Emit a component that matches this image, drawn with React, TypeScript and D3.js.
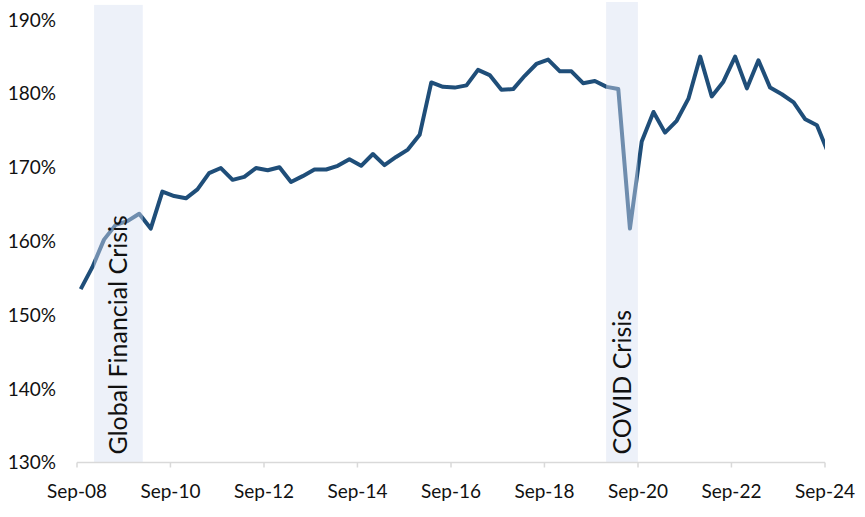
import React from "react";
import * as d3 from "d3";

// Quarter-end observations, Sep-2008 .. Sep-2024 (percent)
const values: number[] = [
  153.5, 156.5, 160.2, 162.2, 162.7, 163.7, 161.7, 166.7, 166.1, 165.8,
  167.0, 169.2, 169.9, 168.3, 168.7, 169.9, 169.6, 170.0, 168.0, 168.8,
  169.7, 169.7, 170.2, 171.1, 170.2, 171.8, 170.3, 171.4, 172.4, 174.4,
  181.5, 180.9, 180.8, 181.1, 183.2, 182.5, 180.5, 180.6, 182.4, 184.0,
  184.6, 183.0, 183.0, 181.4, 181.7, 180.9, 180.6, 161.7, 173.5, 177.5,
  174.7, 176.3, 179.3, 185.0, 179.6, 181.6, 185.0, 180.7, 184.5, 180.8,
  179.9, 178.8, 176.5, 175.7, 171.8,
];
const firstQuarterEnd = new Date(2008, 8, 30);
const yTicks: number[] = [130, 140, 150, 160, 170, 180, 190];
const xTickYears: number[] = [2008, 2010, 2012, 2014, 2016, 2018, 2020, 2022, 2024];
const crisisLabels: string[] = ["Global Financial Crisis", "COVID Crisis"];
const crisisStarts: Date[] = [new Date(2009, 0, 12), new Date(2019, 11, 27)];
const crisisEnds: Date[] = [new Date(2010, 0, 28), new Date(2020, 7, 31)];
const crisisTops: number[] = [192.0, 192.4];

const W = 865;
const H = 517;
const left = 77;
const right = 825;
const top = 19.7;
const bottom = 462.5;
const FONT = "Lato, 'Open Sans', sans-serif";

export default function App() {
  const dates = values.map((_, i) =>
    d3.timeDay.offset(d3.timeMonth.offset(new Date(2008, 9, 1), 3 * i), -1)
  );
  void firstQuarterEnd;
  const x = d3
    .scaleTime()
    .domain([new Date(2008, 8, 1), new Date(2024, 8, 1)])
    .range([left, right]);
  const y = d3.scaleLinear().domain([130, 190]).range([bottom, top]);
  const line = d3
    .line<number>()
    .x((_, i) => x(dates[i]))
    .y((d) => y(d));
  const xTicks = xTickYears.map((yr) => new Date(yr, 8, 1));
  const fmt = d3.timeFormat("%b-%y");

  return (
    <svg
      width={W}
      height={H}
      style={{ position: "absolute", left: 0, top: 0, background: "#fff" }}
    >
      <defs>
        <clipPath id="plot">
          <rect x={left} y={0} width={right - left} height={H} />
        </clipPath>
      </defs>
      <path
        d={line(values) || ""}
        fill="none"
        stroke="#1f4e79"
        strokeWidth={4}
        strokeLinejoin="round"
        clipPath="url(#plot)"
      />
      {crisisLabels.map((lab, k) => (
        <rect
          key={"r" + k}
          x={x(crisisStarts[k])}
          y={y(crisisTops[k])}
          width={x(crisisEnds[k]) - x(crisisStarts[k])}
          height={bottom - y(crisisTops[k])}
          fill="#d6dff1"
          fillOpacity={0.44}
        />
      ))}
      {crisisLabels.map((lab, k) => {
        const cx = (x(crisisStarts[k]) + x(crisisEnds[k])) / 2;
        return (
          <text
            key={"t" + k}
            transform={`translate(${cx + 8.5},${bottom - 8}) rotate(-90)`}
            fontFamily={FONT}
            fontSize={25}
            fill="#111"
          >
            {lab}
          </text>
        );
      })}
      <line x1={left} x2={right} y1={bottom} y2={bottom} stroke="#d9d9d9" strokeWidth={1.5} />
      {xTicks.map((t, i) => (
        <g key={"x" + i}>
          <line x1={x(t)} x2={x(t)} y1={bottom} y2={bottom + 5} stroke="#d9d9d9" strokeWidth={1.5} />
          <text
            x={x(t)}
            y={498}
            textAnchor="middle"
            fontFamily={FONT}
            fontSize={19}
            fill="#111"
          >
            {fmt(t)}
          </text>
        </g>
      ))}
      {yTicks.map((v) => (
        <text
          key={"y" + v}
          x={56}
          y={y(v) + 6.8}
          textAnchor="end"
          fontFamily={FONT}
          fontSize={19}
          fill="#111"
        >
          {v}%
        </text>
      ))}
    </svg>
  );
}
